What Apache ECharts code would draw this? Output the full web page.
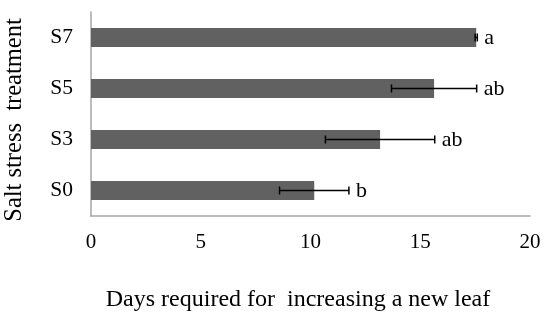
<!DOCTYPE html>
<html><head><meta charset="utf-8">
<script src="https://cdn.jsdelivr.net/npm/echarts@6/dist/echarts.min.js"></script>
<style>html,body{margin:0;padding:0;background:#fff}#c{width:550px;height:324px}</style>
</head><body><div id="c"></div>
<script>
const categories = ['S0', 'S3', 'S5', 'S7'];
const means = [10.17, 13.17, 15.63, 17.55];
const errors = [1.58, 2.49, 1.94, 0.05];
const letters = ['b', 'ab', 'ab', 'a'];
const xTicks = [0, 5, 10, 15, 20];
const xTitle = 'Days required for  increasing a new leaf';
const yTitle = 'Salt stress  treatment';

const errData = categories.map((c, i) => [means[i] - errors[i], means[i] + errors[i], i, letters[i]]);
const font = '"Liberation Serif", "Times New Roman", serif';

const chart = echarts.init(document.getElementById('c'), null, {renderer: 'canvas'});
chart.setOption({
  animation: false,
  grid: {left: 91, right: 20, top: 12, bottom: 108},
  graphic: [
    {type: 'text', x: 15, y: 120, rotation: Math.PI / 2,
     style: {text: yTitle, fill: '#000', font: '24.5px ' + font, textAlign: 'center', textVerticalAlign: 'middle'}},
    {type: 'text', x: 298, y: 300,
     style: {text: xTitle, fill: '#000', font: '24px ' + font, textAlign: 'center', textVerticalAlign: 'middle'}}
  ],
  xAxis: {
    type: 'value', min: xTicks[0], max: xTicks[xTicks.length - 1], interval: 5,
    axisLine: {show: true, lineStyle: {color: '#a6a6a6', width: 1.5}},
    axisTick: {show: false},
    splitLine: {show: false},
    axisLabel: {color: '#000', fontFamily: font, fontSize: 21, margin: 16}
  },
  yAxis: {
    type: 'category', data: categories,
    axisLine: {show: true, lineStyle: {color: '#a6a6a6', width: 1.5}},
    axisTick: {show: false},
    axisLabel: {color: '#000', fontFamily: font, fontSize: 21.5, margin: 18}
  },
  series: [
    {
      type: 'bar', data: means, barWidth: 19,
      itemStyle: {color: '#616161'}
    },
    {
      type: 'custom', data: errData,
      encode: {x: [0, 1], y: 2},
      renderItem: function (params, api) {
        const lo = api.coord([api.value(0), api.value(2)]);
        const hi = api.coord([api.value(1), api.value(2)]);
        const h = 4;
        const st = {stroke: '#000', lineWidth: 1.5};
        return {
          type: 'group',
          children: [
            {type: 'line', shape: {x1: lo[0], y1: lo[1], x2: hi[0], y2: hi[1]}, style: st},
            {type: 'line', shape: {x1: lo[0], y1: lo[1] - h, x2: lo[0], y2: lo[1] + h}, style: st},
            {type: 'line', shape: {x1: hi[0], y1: hi[1] - h, x2: hi[0], y2: hi[1] + h}, style: st},
            {type: 'text', x: hi[0] + 7, y: hi[1] + 1,
             style: {text: letters[params.dataIndex], fill: '#000', font: '22px ' + font,
                     textAlign: 'left', textVerticalAlign: 'middle'}}
          ]
        };
      },
      z: 10
    }
  ]
});
</script></body></html>
